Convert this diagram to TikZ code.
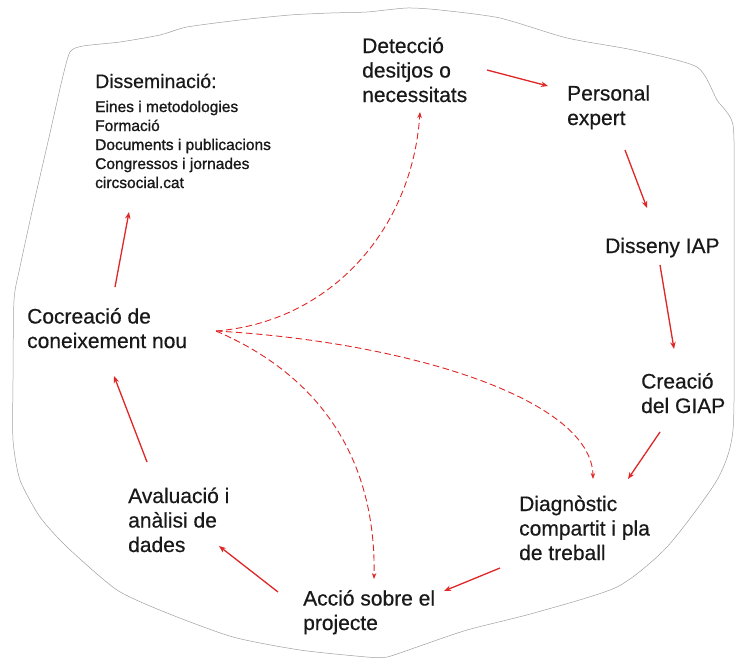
\documentclass[tikz,border=0pt]{standalone}
\usepackage{fontspec}
\setmainfont{Liberation Sans}[FakeBold=0.5]
\newfontfamily\subfont{Liberation Sans}[FakeBold=1.1]
\usetikzlibrary{arrows.meta}
\definecolor{arr}{RGB}{224,38,38}
\definecolor{txt}{RGB}{25,25,25}
\definecolor{edge}{RGB}{160,160,160}
\begin{document}
\begin{tikzpicture}[x=1pt,y=-1pt,
  lab/.style={anchor=base west, inner sep=0pt, align=left, font=\fontsize{21}{24.5}\selectfont, text=txt},
  headlab/.style={anchor=base west, inner sep=0pt, font=\fontsize{19.5}{23}\selectfont, text=txt},
  sublab/.style={anchor=base west, inner sep=0pt, align=left, font=\subfont\fontsize{15.5}{19}\selectfont, text=txt},
  flow/.style={draw=arr, line width=1.3pt, -{Stealth[length=7pt,width=5.5pt]}},
  dflow/.style={draw=arr, line width=0.9pt, dash pattern=on 6.5pt off 3.5pt, -{Stealth[length=6pt,width=4.5pt]}}]
\useasboundingbox (0,0) rectangle (735,659);
\fill[white] (0,0) rectangle (735,659);
% outline
\draw[edge, line width=0.5pt] plot[smooth cycle, tension=0.4] coordinates {
 (70,52) (83,46) (120,42) (160,35) (187,27) (240,20) (290,15) (330,13) (367,12) (407,8) (440,10)
 (500,18) (567,38) (633,50) (697,67) (717,100) (733,125) (734,200) (734,300) (733,430) (717,480)
 (667,547) (617,587) (534,613) (467,630) (417,647) (387,657) (367,657) (300,650) (233,637)
 (167,613) (117,590) (67,547) (40,517) (20,480) (13,440) (13,380) (14,300) (20,267) (33,207)
 (50,133) (62,80)};
% nodes (base anchor = baseline of the last line)
\node[lab] (det) at (362,102) {Detecció\\desitjos o\\necessitats};
\node[lab] (pers) at (567,125) {Personal\\expert};
\node[lab] (dis) at (605,253) {Disseny IAP};
\node[lab] (crea) at (641,413) {Creació\\del GIAP};
\node[lab] (diag) at (519,560) {Diagnòstic\\compartit i pla\\de treball};
\node[lab] (acc) at (303,630) {Acció sobre el\\projecte};
\node[lab] (aval) at (128,552) {Avaluació i\\anàlisi de\\dades};
\node[lab] (coc) at (27,348) {Cocreació de\\coneixement nou};
\node[headlab] (dism) at (95,88) {Disseminació:};
\node[sublab] (dsub) at (95,188) {Eines i metodologies\\Formació\\Documents i publicacions\\Congressos i jornades\\circsocial.cat};
% connector end points
\coordinate (c1a) at (487,70); \coordinate (c1b) at (548,86);
\coordinate (c2a) at (625,150); \coordinate (c2b) at (647,208);
\coordinate (c3a) at (660,265); \coordinate (c3b) at (674,349);
\coordinate (c4a) at (660,432); \coordinate (c4b) at (628,479);
\coordinate (c5a) at (500,568); \coordinate (c5b) at (444,591);
\coordinate (c6a) at (278,592); \coordinate (c6b) at (219,546);
\coordinate (c7a) at (147,462); \coordinate (c7b) at (114,376);
\coordinate (c8a) at (115,287); \coordinate (c8b) at (129,212);
\coordinate (src) at (216,331);
\coordinate (d1) at (420,112);
\coordinate (d2) at (593,479);
\coordinate (d3) at (374,579);
\draw[flow] (c1a) -- (c1b);
\draw[flow] (c2a) -- (c2b);
\draw[flow] (c3a) -- (c3b);
\draw[flow] (c4a) -- (c4b);
\draw[flow] (c5a) -- (c5b);
\draw[flow] (c6a) -- (c6b);
\draw[flow] (c7a) -- (c7b);
\draw[flow] (c8a) -- (c8b);
\draw[dflow] (src) .. controls (330,322) and (412,230) .. (d1);
\draw[dflow] (src) .. controls (410,342) and (592,400) .. (d2);
\draw[dflow] (src) .. controls (330,380) and (376,470) .. (d3);
\end{tikzpicture}
\end{document}
